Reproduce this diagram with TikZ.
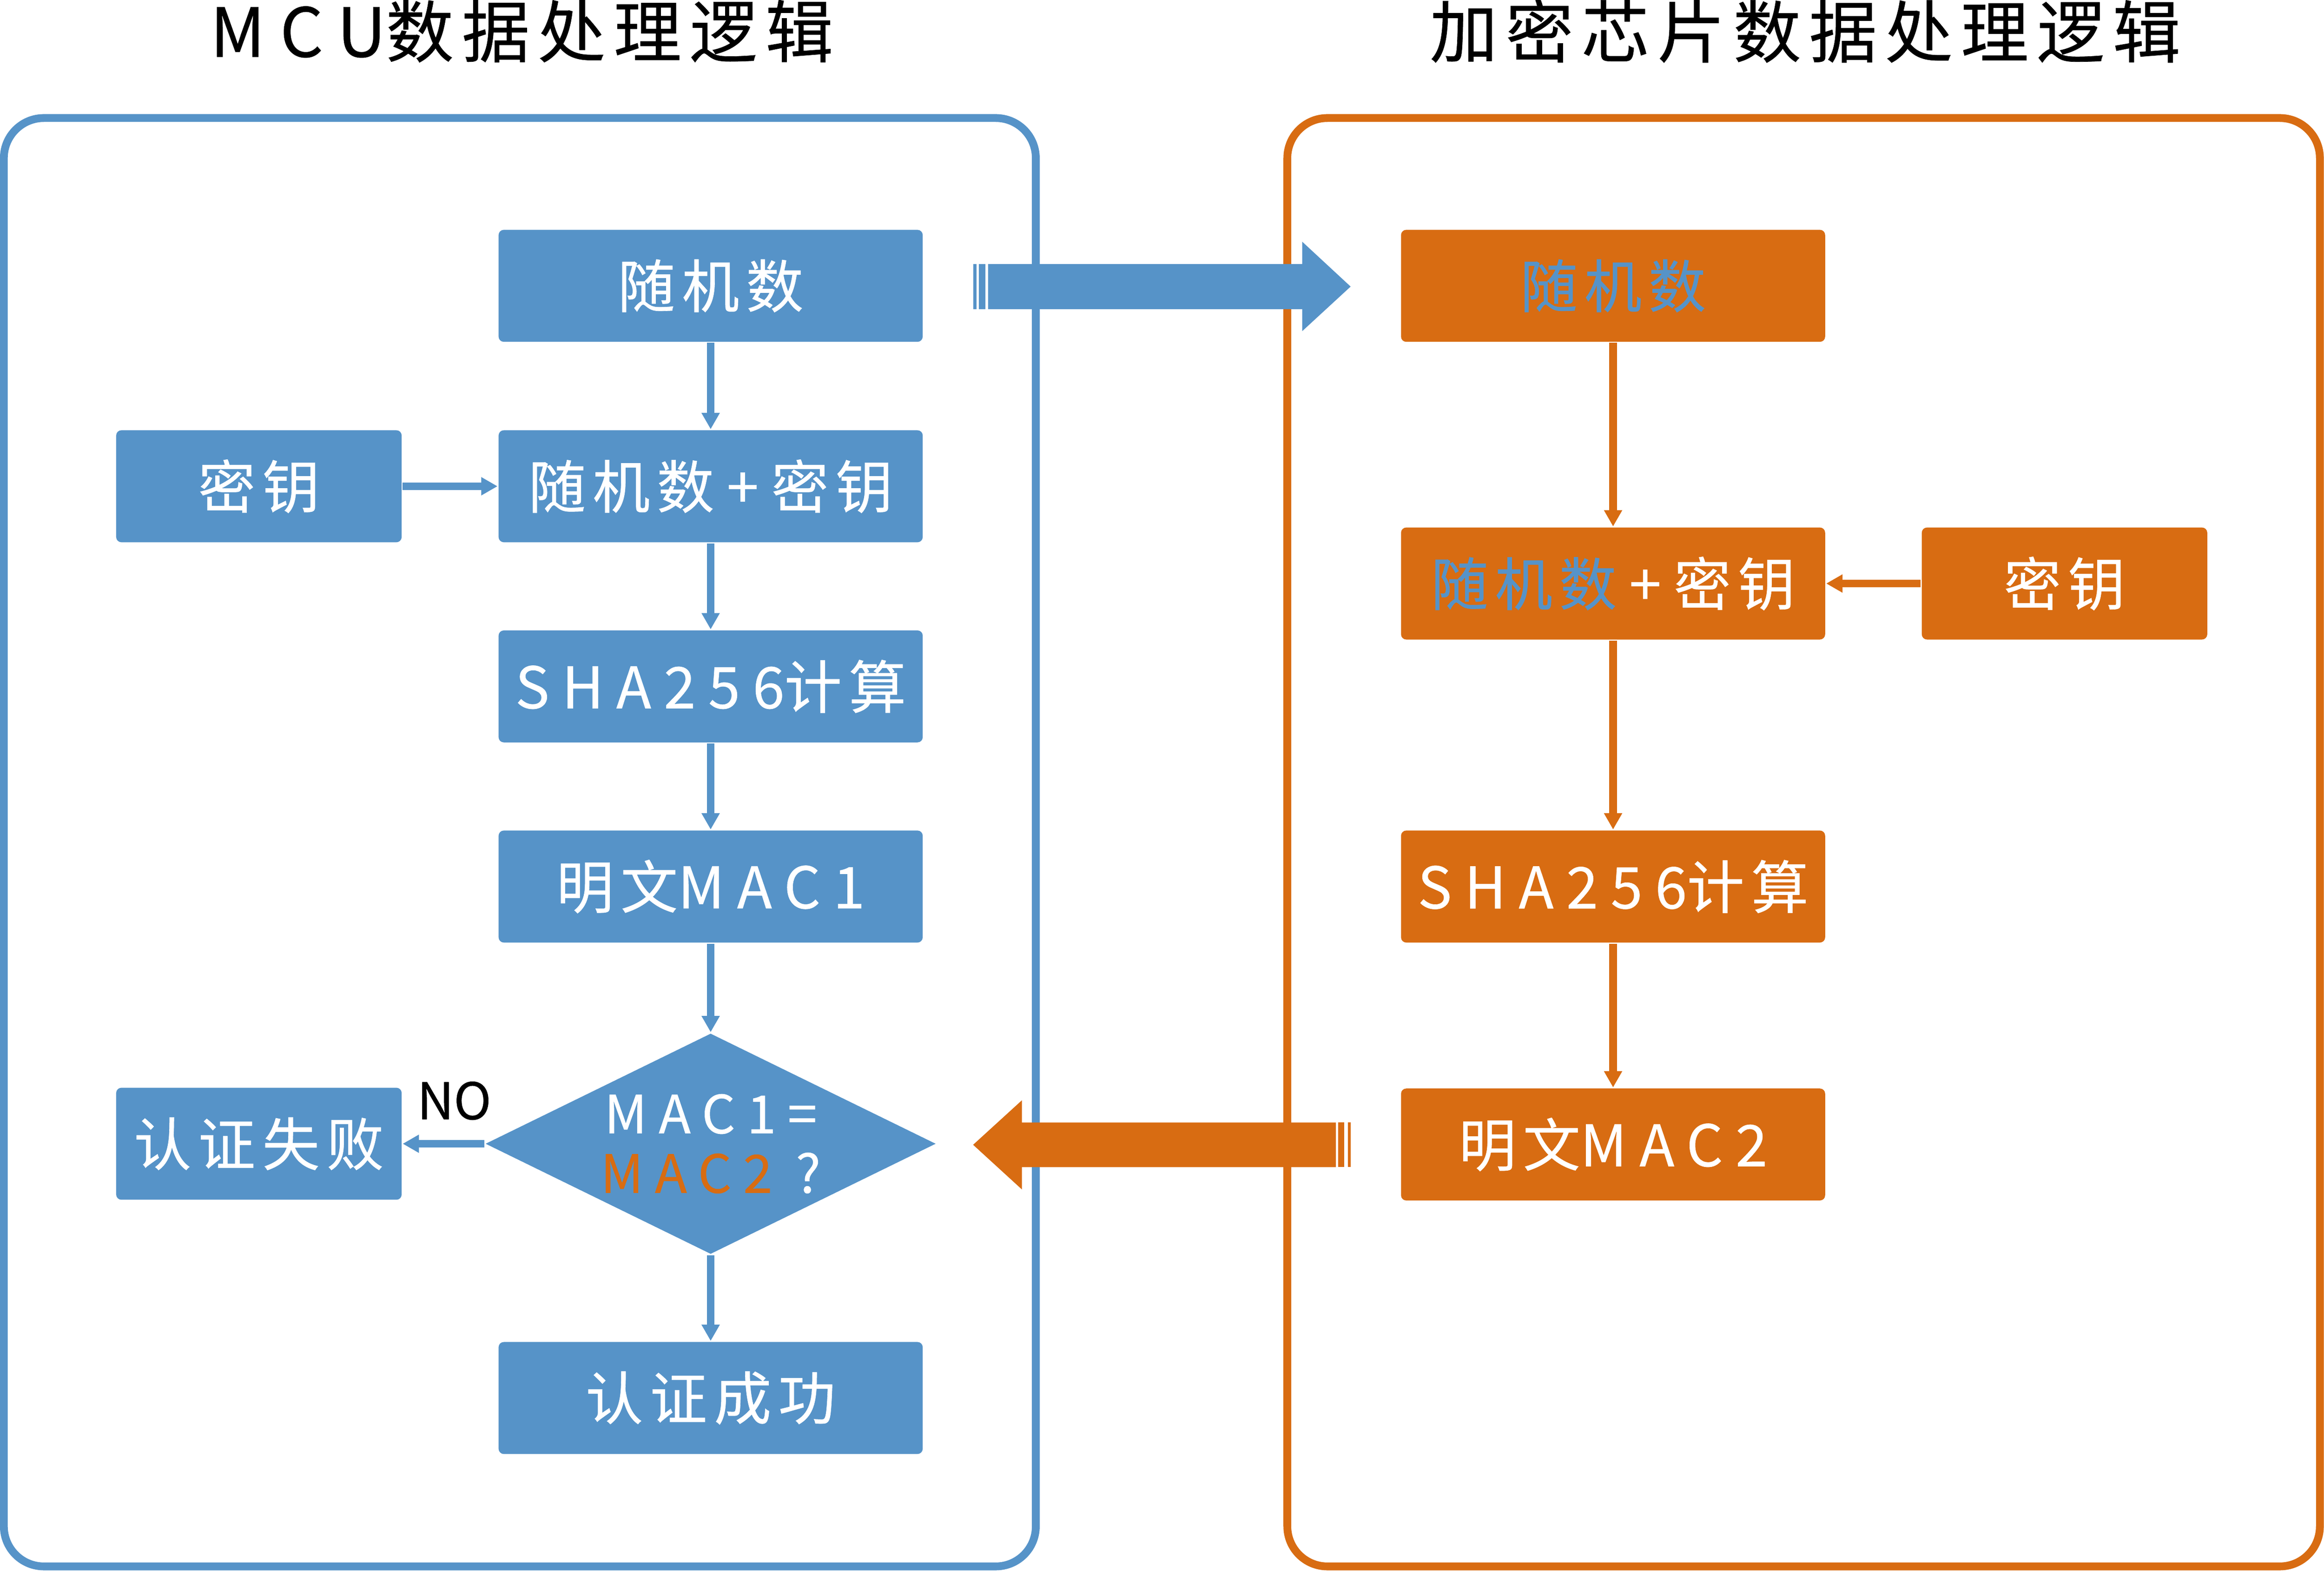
\documentclass[tikz,border=0pt]{standalone}
\usepackage{fontspec}
\setmainfont{Noto Sans CJK SC}[FakeBold=0.5]
\newfontfamily\cj{Noto Sans CJK SC}[LetterSpace=12,FakeBold=0.5]
\newfontfamily\la{Noto Sans CJK SC}[LetterSpace=22,FakeBold=0.5]
\usetikzlibrary{arrows.meta,shapes.geometric}
\definecolor{cblue}{RGB}{86,147,200}
\definecolor{corange}{RGB}{216,108,18}
\newcommand{\plusk}{\hspace{0.22em}{\la +}\hspace{0.22em}}
\tikzset{
  bbox/.style={fill=cblue, rounded corners=1pt, minimum width=2.86cm, minimum height=0.755cm,
    inner sep=0pt, text=white, font=\fontsize{11}{13}\selectfont},
  sbox/.style={bbox, minimum width=1.925cm},
  obox/.style={bbox, fill=corange},
  osbox/.style={sbox, fill=corange},
  cline/.style={line width=1.45pt, -{Triangle[length=3.13pt,width=3.3pt]}},
  panel/.style={line width=1.5pt, rounded corners=0.27cm},
  ttl/.style={inner sep=0pt, text=black, font=\fontsize{13}{15}\selectfont},
}
\begin{document}
\begin{tikzpicture}[x=0.01cm,y=-0.01cm]
\useasboundingbox (0,0) rectangle (1568.1,1059.4);
% panels
\draw[panel, cblue] (2.6,79.6) rectangle (698.9,1056.6);
\draw[panel, corange] (868.6,79.6) rectangle (1565.3,1056.6);
% titles
\node[ttl] (t1) at (352,21) {{\la MCU}{\cj 数据处理逻辑}};
\node[ttl] (t2) at (1218,21) {{\cj 加密芯片数据处理逻辑}};
% left column
\node[bbox] (r1) at (479.5,192.8) {{\cj 随机数}};
\node[sbox] (k1) at (174.7,328) {{\cj 密钥}};
\node[bbox] (rk1) at (479.5,328) {{\cj 随机数}\plusk{\cj 密钥}};
\node[bbox] (s1) at (479.5,463) {{\la SHA256}{\cj 计算}};
\node[bbox] (m1) at (479.5,598) {{\cj 明文}{\la MAC1}};
\node[diamond, fill=cblue, minimum width=3.04cm, minimum height=1.49cm, inner sep=0pt] (d1) at (479.5,771.5) {};
\node[inner sep=0pt, text=white, align=center, font=\fontsize{10.1}{11.4}\selectfont] (d1t) at (d1) {{\la MAC1=}\\{\la\textcolor{corange}{MAC2} ?}};
\node[sbox] (f1) at (174.7,771.5) {{\cj 认证失败}};
\node[bbox] (ok1) at (479.5,943) {{\cj 认证成功}};
\node[inner sep=0pt, text=black, font=\fontsize{9.7}{11}\selectfont] (no) at (306.5,742.5) {NO};
% right column
\node[obox] (r2) at (1088.4,192.8) {{\cj\color{cblue}随机数}};
\node[obox] (rk2) at (1088.4,393.6) {{\cj\color{cblue}随机数}\plusk{\cj 密钥}};
\node[osbox] (k2) at (1393,393.6) {{\cj 密钥}};
\node[obox] (s2) at (1088.4,598) {{\la SHA256}{\cj 计算}};
\node[obox] (m2) at (1088.4,772) {{\cj 明文}{\la MAC2}};
% connectors left
\draw[cline, cblue] (r1.south) -- (rk1.north);
\draw[cline, cblue] (k1.east) -- (rk1.west);
\draw[cline, cblue] (rk1.south) -- (s1.north);
\draw[cline, cblue] (s1.south) -- (m1.north);
\draw[cline, cblue] (m1.south) -- (d1.north);
\draw[cline, cblue] (d1.south) -- (ok1.north);
\draw[cline, cblue] (d1.west) -- (f1.east);
% connectors right
\draw[cline, corange] (r2.south) -- (rk2.north);
\draw[cline, corange] (k2.west) -- (rk2.east);
\draw[cline, corange] (rk2.south) -- (s2.north);
\draw[cline, corange] (s2.south) -- (m2.north);
% big striped arrows
\fill[cblue] (666.7,178.1) -- (878.6,178.1) -- (878.6,163) -- (911.3,193.3) -- (878.6,223.4) -- (878.6,208.5) -- (666.7,208.5) -- cycle;
\fill[cblue] (660.6,178.1) rectangle (664.9,208.5);
\fill[cblue] (656.6,178.1) rectangle (658.8,208.5);
\fill[corange] (901.4,757.2) -- (689.5,757.2) -- (689.5,742.2) -- (656.6,772.2) -- (689.5,802.3) -- (689.5,787.3) -- (901.4,787.3) -- cycle;
\fill[corange] (903,757.2) rectangle (907,787.3);
\fill[corange] (909.4,757.2) rectangle (911.3,787.3);
\end{tikzpicture}
\end{document}
